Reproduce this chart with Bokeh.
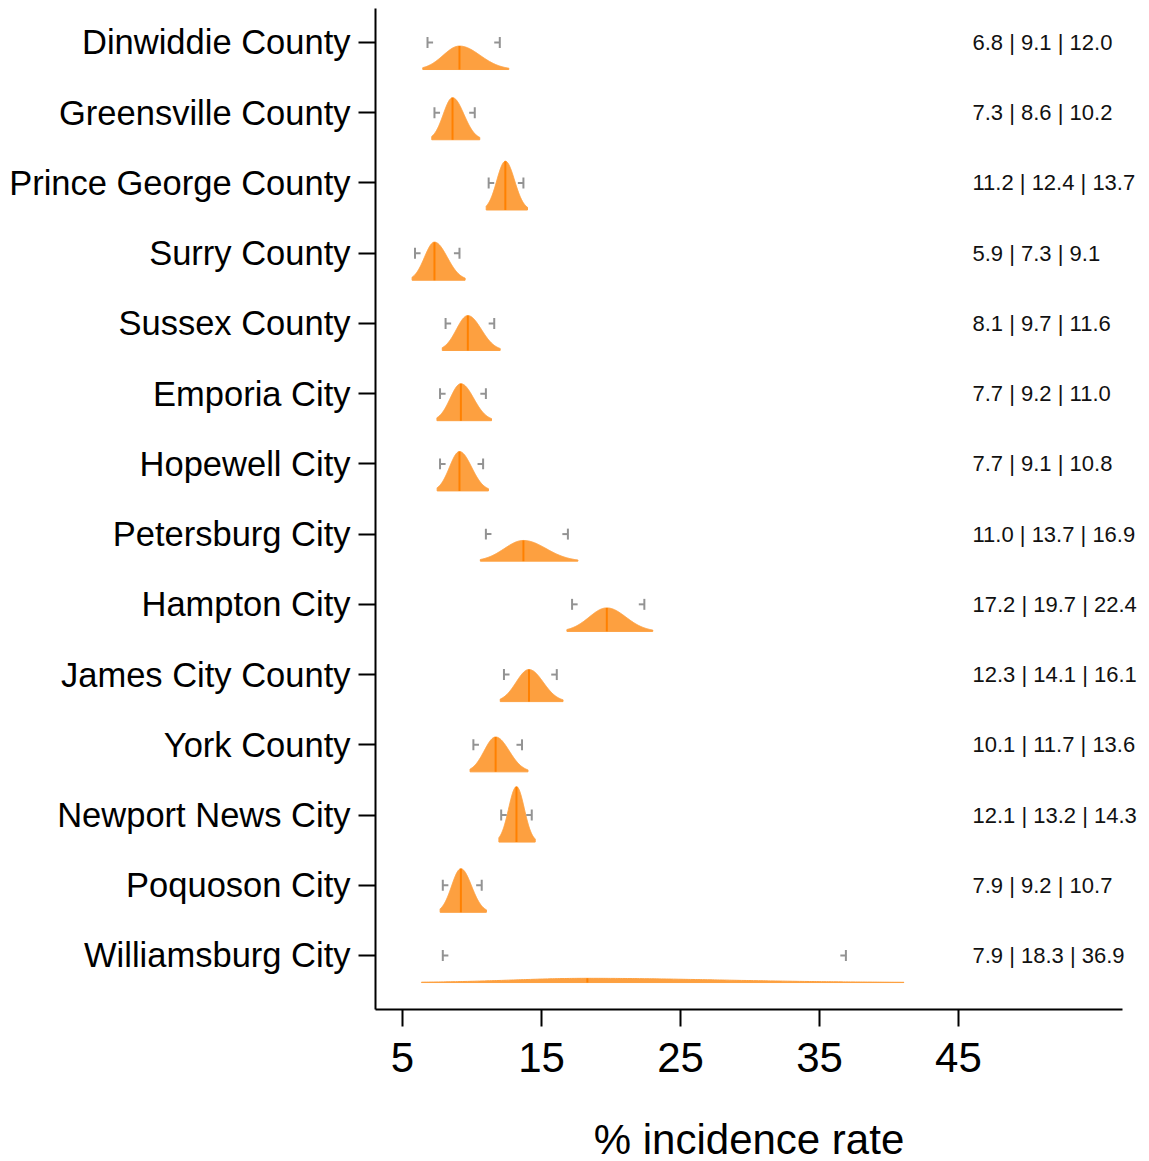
import numpy as np
from bokeh.plotting import figure
from bokeh.models import FixedTicker, Range1d, LinearAxis
from bokeh.embed import file_html
from bokeh.resources import INLINE

counties = ["Dinwiddie County", "Greensville County", "Prince George County", "Surry County",
            "Sussex County", "Emporia City", "Hopewell City", "Petersburg City", "Hampton City",
            "James City County", "York County", "Newport News City", "Poquoson City",
            "Williamsburg City"]
lower = [6.8, 7.3, 11.2, 5.9, 8.1, 7.7, 7.7, 11.0, 17.2, 12.3, 10.1, 12.1, 7.9, 7.9]
median = [9.1, 8.6, 12.4, 7.3, 9.7, 9.2, 9.1, 13.7, 19.7, 14.1, 11.7, 13.2, 9.2, 18.3]
upper = [12.0, 10.2, 13.7, 9.1, 11.6, 11.0, 10.8, 16.9, 22.4, 16.1, 13.6, 14.3, 10.7, 36.9]
x_ticks = [5, 15, 25, 35, 45]

FONT = "Liberation Sans"
n = len(counties)
ypos = [n - i for i in range(n)]  # top row highest

p = figure(frame_width=747, frame_height=1001, output_backend="svg", toolbar_location=None,
           x_range=Range1d(3.058, 56.8), y_range=Range1d(0.231, 14.484),
           min_border_left=375, min_border_top=8, min_border_right=11, min_border_bottom=4)
p.outline_line_color = None
p.xgrid.visible = False
p.ygrid.visible = False
p.background_fill_color = "white"
p.border_fill_color = "white"

# densities (split-normal built from the lower | median | upper values)
H = 1.11      # y-units per density unit
BASE = 0.385  # baseline offset below each row
xs_all, ys_all = [], []
med_x, med_y0, med_y1 = [], [], []
for lo, md, hi, yc in zip(lower, median, upper, ypos):
    s1 = (md - lo) / 1.96
    s2 = (hi - md) / 1.96
    A = 2.0 / (np.sqrt(2 * np.pi) * (s1 + s2))
    xx = np.linspace(md - 2.25 * s1, md + 2.4 * s2, 200)
    ss = np.where(xx < md, s1, s2)
    ff = A * np.exp(-(xx - md) ** 2 / (2 * ss ** 2))
    base = yc - BASE
    px = np.concatenate([[xx[0]], xx, [xx[-1]]])
    py = np.concatenate([[base], base + H * ff, [base]])
    xs_all.append(px.tolist())
    ys_all.append(py.tolist())
    med_x.append(md)
    med_y0.append(base)
    med_y1.append(base + H * A)

p.patches(xs_all, ys_all, fill_color="#FDA040", fill_alpha=1.0, line_color="#FDA040", line_width=1)
p.segment(x0=med_x, y0=med_y0, x1=med_x, y1=med_y1, line_color="#FF8000", line_width=2)

# interval marks
hb = 0.078
stub = 0.4
mark = dict(line_color="#939393", line_width=2)
p.segment(x0=lower, y0=[y - hb for y in ypos], x1=lower, y1=[y + hb for y in ypos], **mark)
p.segment(x0=lower, y0=ypos, x1=[v + stub for v in lower], y1=ypos, **mark)
p.segment(x0=upper, y0=[y - hb for y in ypos], x1=upper, y1=[y + hb for y in ypos], **mark)
p.segment(x0=[v - stub for v in upper], y0=ypos, x1=upper, y1=ypos, **mark)

# interval text, shown through a label-only axis on the right
labels = [f"{lo:.1f} | {md:.1f} | {hi:.1f}" for lo, md, hi in zip(lower, median, upper)]
rax = LinearAxis(ticker=FixedTicker(ticks=ypos),
                 major_label_overrides={y: t for y, t in zip(ypos, labels)},
                 axis_line_color=None, major_tick_line_color=None, minor_tick_line_color=None,
                 major_tick_in=0, major_tick_out=0,
                 major_label_standoff=-150,
                 major_label_text_font=FONT, major_label_text_font_size="22px",
                 major_label_text_color="#111111")
p.add_layout(rax, "right")

# axes
p.yaxis[0].ticker = FixedTicker(ticks=ypos)
p.yaxis[0].major_label_overrides = {y: c for y, c in zip(ypos, counties)}
p.yaxis[0].major_label_text_font = FONT
p.yaxis[0].major_label_text_font_size = "34.5px"
p.yaxis[0].major_label_text_color = "black"
p.yaxis[0].major_tick_in = 0
p.yaxis[0].major_tick_out = 17
p.yaxis[0].minor_tick_line_color = None
p.yaxis[0].major_label_standoff = 8
p.yaxis[0].axis_line_width = 2
p.yaxis[0].major_tick_line_width = 2

p.xaxis.ticker = FixedTicker(ticks=x_ticks)
p.xaxis.major_label_text_font = FONT
p.xaxis.major_label_text_font_size = "42px"
p.xaxis.major_label_text_color = "black"
p.xaxis.major_tick_in = 0
p.xaxis.major_tick_out = 17
p.xaxis.minor_tick_line_color = None
p.xaxis.major_label_standoff = 16
p.xaxis.axis_line_width = 2
p.xaxis.major_tick_line_width = 2
p.xaxis.axis_label = "% incidence rate"
p.xaxis.axis_label_text_font = FONT
p.xaxis.axis_label_text_font_size = "42px"
p.xaxis.axis_label_text_font_style = "normal"
p.xaxis.axis_label_text_color = "black"
p.xaxis.axis_label_standoff = 41

open("out.html", "w").write(file_html(p, INLINE))
